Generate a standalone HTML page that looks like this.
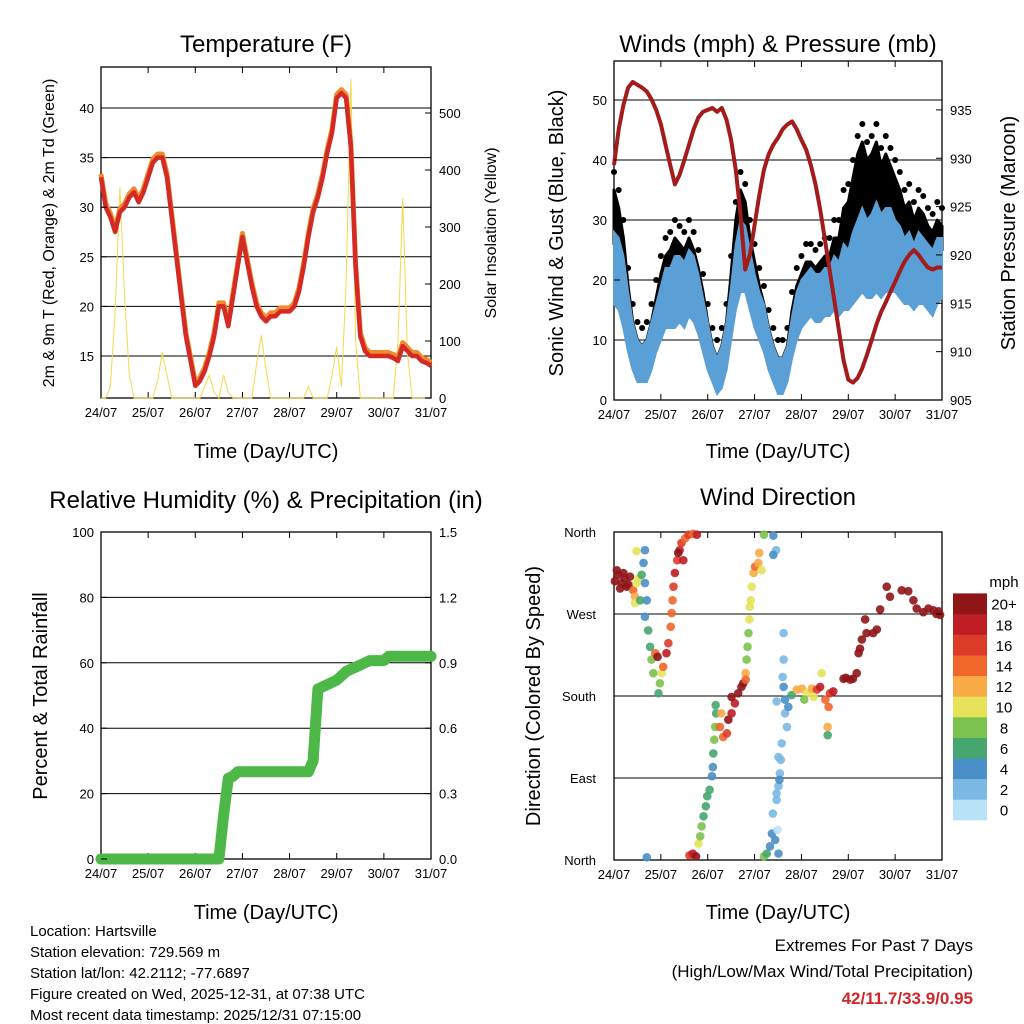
<!DOCTYPE html>
<html><head><meta charset="utf-8">
<style>
body{margin:0;background:#fff;}
svg{display:block;font-family:"Liberation Sans",sans-serif;}
</style></head>
<body>
<svg id="chart" width="1024" height="1024" viewBox="0 0 1024 1024" xmlns="http://www.w3.org/2000/svg">
<rect width="1024" height="1024" fill="#fff"/>
<g id="g1"></g>
<g id="g2"></g>
<g id="g3"></g>
<g id="g4"></g>
<g font-size="15" fill="#000">
<text x="30" y="936">Location: Hartsville</text>
<text x="30" y="957">Station elevation: 729.569 m</text>
<text x="30" y="978">Station lat/lon: 42.2112; -77.6897</text>
<text x="30" y="999">Figure created on Wed, 2025-12-31, at 07:38 UTC</text>
<text x="30" y="1020">Most recent data timestamp: 2025/12/31 07:15:00</text>
</g>
<g text-anchor="end">
<text x="973" y="951" font-size="17">Extremes For Past 7 Days</text>
<text x="973" y="977" font-size="17">(High/Low/Max Wind/Total Precipitation)</text>
<text x="973" y="1004" font-size="17" font-weight="bold" fill="#d0262b">42/11.7/33.9/0.95</text>
</g>
</svg>
<script>
const dayLabels=["24/07","25/07","26/07","27/07","28/07","29/07","30/07","31/07"];
const temp=[33,30,29,27.5,29.5,30,31,31.5,30.5,31.5,33,34.5,35,35,33,29,25,21,17,14.5,12,12.5,13.5,15,17,20,20,18,21,24,27,24.5,22,20,19,18.5,19,19,19.5,19.5,19.5,20,21.5,24,27,29.5,31,33,35.5,37.5,41,41.5,41,36,24,17,15.5,15,15,15,15,15,14.8,14.5,16,15.5,15,15,14.5,14.3,14];
const solar=[0,0,20,150,370,180,40,0,0,0,0,0,30,80,40,0,0,0,0,0,0,0,20,40,10,0,40,10,0,0,0,0,0,60,110,50,0,0,0,0,0,0,0,0,20,0,0,0,0,40,90,20,200,560,100,0,0,0,0,0,0,0,0,100,350,80,0,0,0,0,0];
const pressure=[929.3,933,935.5,937.3,937.9,937.6,937.3,936.9,936.1,935,933.5,931.4,929.3,927.3,928.3,929.8,931.4,933,934.2,934.8,935,935.2,934.8,935.2,934,931.9,928.8,924.2,918.5,920,923.1,926.2,928.8,930.4,931.4,932.1,933,933.5,933.8,933,931.9,930.9,929.3,927.3,924.7,921.6,918.5,915.4,912.2,909.1,907.1,906.8,907.3,908.3,909.7,911.2,912.8,914.1,915.1,916.2,917.2,918.3,919.3,920,920.5,920,919.3,918.7,918.5,918.7,918.7];
const windLo=[16,15,12,8,5,3,3,3,5,8,10,12,12,12,13,12,14,13,11,8,5,3,1,2,5,10,15,18,18,15,12,10,8,5,3,1,1,3,7,10,12,13,14,13,13,14,14,15,14,15,15,16,17,18,17,17,18,17,18,18,18,17,16,16,15,16,16,15,14,16,17];
const windHi=[28,27,24,18,13,10,9,10,13,16,19,22,22,24,24,23,25,24,21,17,13,9,7,9,13,19,26,30,29,25,21,18,16,12,9,7,7,9,14,18,20,21,22,21,21,22,22,24,23,26,25,28,30,32,30,31,33,31,32,32,30,29,27,28,26,28,27,26,25,27,27];
const gustHi=[38,35,30,22,16,13,12,13,16,20,24,27,28,30,29,28,30,28,25,21,16,12,10,12,16,24,33,38,36,30,26,22,19,15,12,10,10,12,18,22,24,26,26,25,26,27,27,30,30,35,36,40,44,46,43,44,46,42,44,42,40,38,35,36,33,35,34,32,31,33,32];
const precip=[0,0,0,0,0,0,0,0,0,0,0,0,0,0,0,0,0,0,0,0,0,0,0,0,0,0,0.2,0.37,0.38,0.4,0.4,0.4,0.4,0.4,0.4,0.4,0.4,0.4,0.4,0.4,0.4,0.4,0.4,0.4,0.4,0.45,0.78,0.79,0.8,0.81,0.82,0.84,0.86,0.87,0.88,0.89,0.9,0.91,0.91,0.91,0.91,0.93,0.93,0.93,0.93,0.93,0.93,0.93,0.93,0.93,0.93];
const dirTime=[0.02,0.09,0.16,0.23,0.31,0.06,0.2,0.34,0.13,0.27,0.41,0.45,0.48,0.52,0.45,0.48,0.66,0.63,0.66,0.7,0.66,0.56,0.59,0.73,0.77,0.8,0.84,0.95,0.98,1.02,0.88,0.93,1.05,1.12,1.16,1.21,1.23,1.25,1.27,1.3,1.35,1.4,1.44,1.52,1.59,1.69,1.77,1.37,1.48,1.61,1.68,1.75,0.7,1.8,1.84,1.87,1.91,1.96,1.99,2.04,2.09,2.11,2.12,2.14,2.16,2.18,2.17,2.26,2.33,2.44,2.51,2.58,2.29,2.41,2.65,2.72,2.76,2.51,2.81,2.81,2.83,2.85,2.87,2.89,2.9,2.92,2.94,2.98,3.01,3.08,3.1,3.15,3.2,3.4,3.46,3.4,3.2,3.26,3.33,3.37,3.44,3.51,3.39,3.47,3.51,3.54,3.56,3.58,3.51,3.53,3.47,3.49,3.62,3.62,3.6,3.62,3.65,3.65,3.69,3.47,3.72,3.79,3.9,4.01,4.11,4.22,4.33,4.4,4.43,4.51,4.58,4.61,4.68,4.56,4.56,4.06,4.26,4.9,5.04,5.18,5.22,5.29,5.36,5.39,5.53,5.61,5.68,5.82,5.89,6.14,6.28,6.39,6.46,6.71,6.82,6.93,6.96,5.25,4.95,5.1,6.6,6.88];
const dirDeg=[306,313,304,309,302,318,315,311,298,300,296,289,304,309,282,339,340,326,304,285,267,285,313,252,234,220,205,183,194,205,227,223,212,227,238,256,271,285,300,315,329,340,348,353,357,358,357,337,329,5,7,4,3,18,26,37,48,59,70,77,92,102,117,132,146,161,170,146,135,154,161,172,161,139,183,190,194,179,205,198,220,234,249,264,278,285,300,315,322,326,337,318,357,356,340,335,4,7,15,29,22,7,51,66,81,95,110,128,113,88,73,33,249,220,201,190,176,161,146,174,168,181,187,188,183,188,187,190,205,176,168,183,185,146,137,176,179,199,198,205,227,242,264,249,249,253,275,300,289,296,295,285,276,276,274,273,269,232,200,199,272,270];
const dirSpd=[20,20,20,20,20,20,20,20,20,20,14,12,10,10,10,10,4,4,4,4,4,6,6,6,6,8,8,6,8,10,14,20,14,18,16,14,14,14,16,18,16,18,16,14,16,14,18,20,18,16,18,20,4,10,8,8,6,6,6,6,4,4,6,8,8,6,6,14,14,20,18,18,12,16,20,20,20,20,12,14,8,8,8,10,10,10,10,12,14,12,12,10,8,4,2,4,8,6,4,4,4,4,2,2,2,2,2,2,2,4,2,0,2,2,2,4,4,2,2,2,4,6,12,12,10,12,16,18,10,14,14,16,18,12,6,8,10,20,20,20,20,20,20,20,20,20,20,20,20,20,20,20,20,20,20,20,20,20,20,20,20,20];
const tempTicks=[15,20,25,30,35,40];
const solarTicks=[0,100,200,300,400,500];
const windTicks=[0,10,20,30,40,50];
const presTicks=[905,910,915,920,925,930,935];
const rhTicks=[0,20,40,60,80,100];
const rainTicks=["0.0","0.3","0.6","0.9","1.2","1.5"];
const dirTicks=["North","East","South","West","North"];
const speedLevels=["0","2","4","6","8","10","12","14","16","18","20+"];
const speedColors=["#b7e2f7","#7bb8e4","#4a8fc7","#46a66f","#7cc24e","#e6e35a","#f8aa45","#f0662b","#dd3b2a","#be1d26","#8f1519"];

const NS="http://www.w3.org/2000/svg";
function mk(parent,tag,attrs){const e=document.createElementNS(NS,tag);for(const k in attrs)e.setAttribute(k,attrs[k]);parent.appendChild(e);return e;}
function txt(parent,x,y,s,size,anchor,rot){const e=mk(parent,'text',{x:x,y:y,'font-size':size,'text-anchor':anchor||'middle'});if(rot)e.setAttribute('transform','rotate(-90 '+x+' '+y+')');e.textContent=s;return e;}
function pathD(xs,ys){let d='';for(let i=0;i<xs.length;i++)d+=(i?'L':'M')+xs[i].toFixed(1)+' '+ys[i].toFixed(1);return d;}

function frame(g,P,gridVals,yf){
  for(const v of gridVals){const y=yf(v);if(y>P.y0+1&&y<P.y1-1){const l=mk(g,'line',{x1:P.x0,x2:P.x1,y1:y,y2:y,stroke:'#000','stroke-width':1});

}}
  const r=mk(g,'rect',{x:P.x0,y:P.y0,width:P.x1-P.x0,height:P.y1-P.y0,fill:'none',stroke:'#000','stroke-width':1.3});
  
  
  const xs=mk(g,'g',{});
  
  
  dayLabels.forEach((s,i)=>{const x=P.x0+i*(P.x1-P.x0)/7;
    mk(xs,'line',{x1:x,x2:x,y1:P.y1,y2:P.y1-6,stroke:'#000'});mk(xs,'line',{x1:x,x2:x,y1:P.y0,y2:P.y0+6,stroke:'#000'});
    const t=txt(xs,x,P.y1+19,s,13);
    
    });
}
function leftTicks(g,P,vals,yf,labels){vals.forEach((v,i)=>{const y=yf(v);mk(g,'line',{x1:P.x0,x2:P.x0+6,y1:y,y2:y,stroke:'#000'});
  const t=txt(g,P.x0-7,y+5,labels?labels[i]:String(v),13,'end');
  
  });}
function rightTicks(g,P,vals,yf,labels){vals.forEach((v,i)=>{const y=yf(v);mk(g,'line',{x1:P.x1,x2:P.x1-6,y1:y,y2:y,stroke:'#000'});
  const t=txt(g,P.x1+8,y+5,labels?labels[i]:String(v),13,'start');
  
  });}
const times=temp.map((_,i)=>i*0.1);

// Panel 1
(function(){
  const g=document.getElementById('g1');const P={x0:101,x1:431,y0:67,y1:398};
  const xf=d=>P.x0+d*(P.x1-P.x0)/7, yf=t=>356-(t-15)*9.92, sf=w=>398-w*0.57;
  frame(g,P,tempTicks,yf);
  const sl=mk(g,'path',{d:pathD(times.map(xf),solar.map(sf)),fill:'none',stroke:'#f5d84a','stroke-width':1});
  
  
  const o=mk(g,'path',{d:pathD(times.map(xf),temp.map(t=>yf(t+0.35))),fill:'none',stroke:'#f08a2a','stroke-width':5,'stroke-linejoin':'round'});
  
  
  const r=mk(g,'path',{d:pathD(times.map(xf),temp.map(yf)),fill:'none',stroke:'#d42a26','stroke-width':4.5,'stroke-linejoin':'round'});
  
  
  leftTicks(g,P,tempTicks,yf);rightTicks(g,P,solarTicks,sf);
  let t=txt(g,266,52,'Temperature (F)',24);
  t=txt(g,266,458,'Time (Day/UTC)',20);
  t=txt(g,54,233,'2m & 9m T (Red, Orange) & 2m Td (Green)',16,'middle',true);
  t=txt(g,496,233,'Solar Insolation (Yellow)',16,'middle',true);
})();

// Panel 2
(function(){
  const g=document.getElementById('g2');const P={x0:614,x1:942,y0:61,y1:400};
  const xf=d=>P.x0+d*(P.x1-P.x0)/7, yf=w=>400-w*6, pf=p=>400-(p-905)*9.67;
  frame(g,P,windTicks,yf);
  const xs=times.map(xf);
  let up=xs.map((x,i)=>x.toFixed(1)+','+yf(gustHi[i]-3).toFixed(1)).join(' ');
  let dn=xs.map((x,i)=>x.toFixed(1)+','+yf(windHi[i]-2).toFixed(1)).reverse().join(' ');
  const gb=mk(g,'polygon',{points:up+' '+dn,fill:'#000',stroke:'#000','stroke-width':3,'stroke-linejoin':'round'});
  
  
  xs.forEach((x,i)=>{const c=mk(g,'circle',{cx:x,cy:yf(gustHi[i]),r:3,fill:'#000'});
    
    });
  up=xs.map((x,i)=>x.toFixed(1)+','+yf(windHi[i]).toFixed(1)).join(' ');
  dn=xs.map((x,i)=>x.toFixed(1)+','+yf(windLo[i]).toFixed(1)).reverse().join(' ');
  const wb=mk(g,'polygon',{points:up+' '+dn,fill:'#5a9fd6',stroke:'#5a9fd6','stroke-width':2});
  
  
  const pl=mk(g,'path',{d:pathD(xs,pressure.map(pf)),fill:'none',stroke:'#a31b1b','stroke-width':4,'stroke-linejoin':'round'});
  
  
  leftTicks(g,P,windTicks,yf);rightTicks(g,P,presTicks,pf);
  let t=txt(g,778,52,'Winds (mph) & Pressure (mb)',24);
  t=txt(g,778,458,'Time (Day/UTC)',20);
  t=txt(g,563,233,'Sonic Wind & Gust (Blue, Black)',20,'middle',true);
  t=txt(g,1015,233,'Station Pressure (Maroon)',20,'middle',true);
})();

// Panel 3
(function(){
  const g=document.getElementById('g3');const P={x0:101,x1:431,y0:532,y1:859};
  const xf=d=>P.x0+d*(P.x1-P.x0)/7, yf=v=>859-v*3.27, rf=v=>859-v*218;
  frame(g,P,rhTicks,yf);
  const pl=mk(g,'path',{d:pathD(times.map(xf),precip.map(rf)),fill:'none',stroke:'#4db847','stroke-width':11,'stroke-linejoin':'round','stroke-linecap':'round'});
  
  
  leftTicks(g,P,rhTicks,yf);rightTicks(g,P,rainTicks.map(Number),rf,rainTicks);
  let t=txt(g,266,508,'Relative Humidity (%) & Precipitation (in)',24);
  t=txt(g,266,919,'Time (Day/UTC)',20);
  t=txt(g,47,696,'Percent & Total Rainfall',20,'middle',true);
})();

// Panel 4
(function(){
  const g=document.getElementById('g4');const P={x0:614,x1:942,y0:532,y1:860};
  const xf=d=>P.x0+d*(P.x1-P.x0)/7, yf=a=>860-a*328/360;
  const dv=dirTicks.map((_,i)=>i*90);
  frame(g,P,dv,yf);
  dirTime.forEach((d,i)=>{const ci=Math.min(10,Math.round(dirSpd[i]/2));
    const c=mk(g,'circle',{cx:xf(d),cy:yf(dirDeg[i]),r:4.3,fill:speedColors[ci],'fill-opacity':0.9});
    
    });
  dv.forEach((v,i)=>{const y=yf(v);mk(g,'line',{x1:P.x0,x2:P.x0+6,y1:y,y2:y,stroke:'#000'});mk(g,'line',{x1:P.x1,x2:P.x1-6,y1:y,y2:y,stroke:'#000'});
    const t=txt(g,P.x0-18,y+5,dirTicks[i],13,'end');
    
    });
  const lg=mk(g,'g',{});
  
  
  const bh=20.6;
  speedLevels.forEach((s,i)=>{const y=820-(i+1)*bh;
    const r=mk(lg,'rect',{x:953,y:y,width:34,height:bh+0.3,fill:speedColors[i]});
    
    
    const t=txt(lg,1004,y+bh/2+6,s,15);
    
    });
  let t=txt(lg,1004,587,'mph',15);
  t=txt(g,778,505,'Wind Direction',24);
  t=txt(g,778,919,'Time (Day/UTC)',20);
  t=txt(g,540,696,'Direction (Colored By Speed)',20,'middle',true);
})();
</script>
</body></html>
